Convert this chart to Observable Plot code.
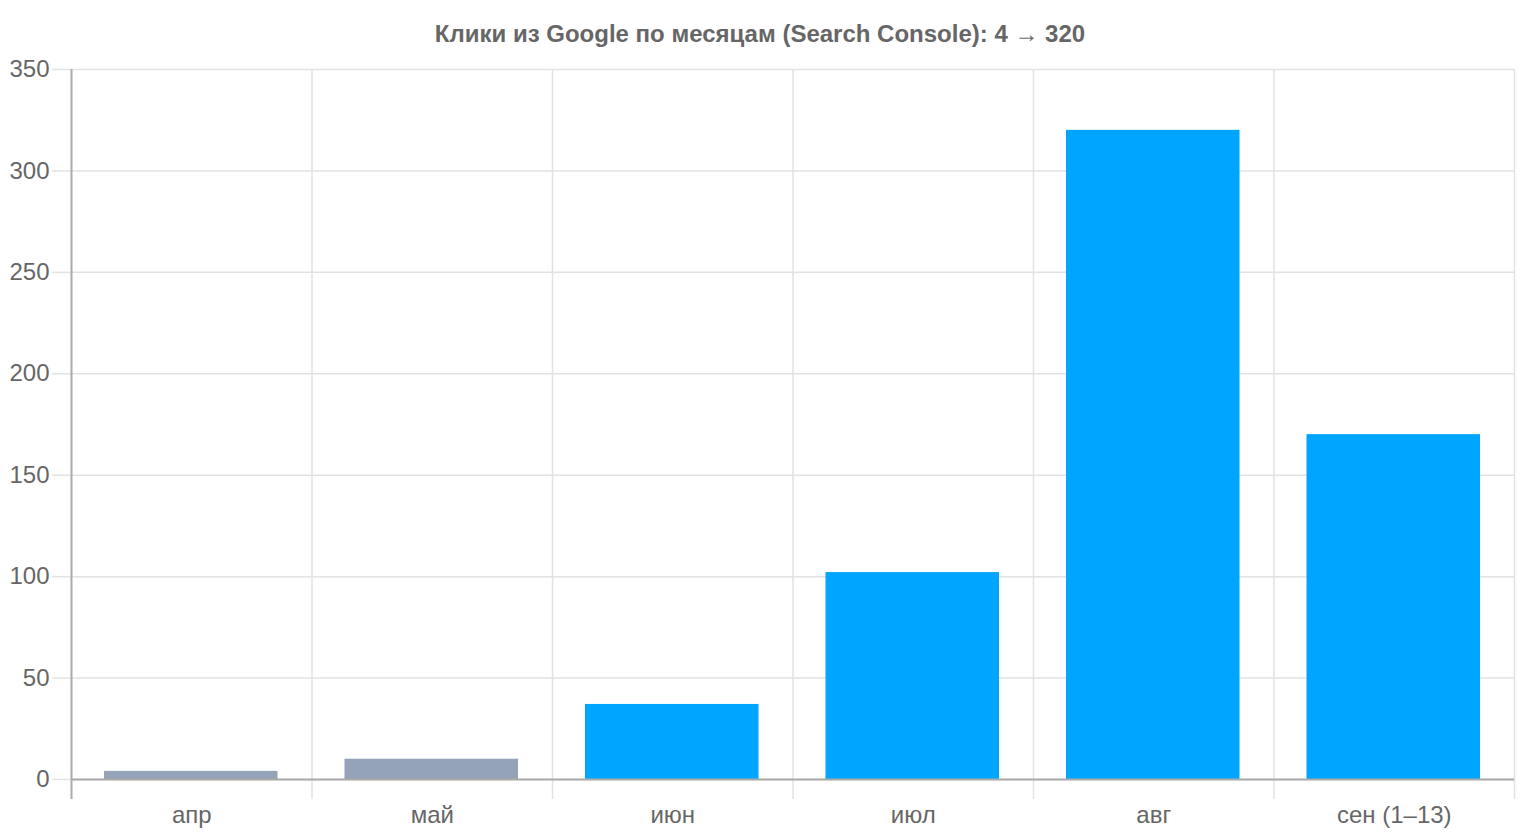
<!DOCTYPE html>
<html>
<head>
<meta charset="utf-8">
<script src="https://cdn.jsdelivr.net/npm/d3@7"></script>
<script src="https://cdn.jsdelivr.net/npm/@observablehq/plot@0.6"></script>
<style>
  html, body { margin: 0; padding: 0; background: #fff; }
  #title { box-sizing: border-box; height: 48px; padding-top: 22px; line-height: 24px; text-align: center; font-family: "Liberation Sans", Arial, sans-serif; font-weight: bold; font-size: 24px; color: #666; }
  #chart svg { display: block; }
</style>
</head>
<body>
<div id="title">Клики из Google по месяцам (Search Console): 4 → 320</div>
<div id="chart"></div>
<script>
const months = ["апр", "май", "июн", "июл", "авг", "сен (1–13)"];
const clicks = [4, 10, 37, 102, 320, 170];
const yTicks = [0, 50, 100, 150, 200, 250, 300, 350];

const data = months.map((m, i) => ({month: m, i, clicks: clicks[i]}));
const bounds = d3.range(months.length + 1);
const centers = months.map((_, i) => i + 0.5);

const chart = Plot.plot({
  width: 1520,
  height: 792,
  marginTop: 21,
  marginBottom: 61,
  marginLeft: 71,
  marginRight: 6,
  style: {fontFamily: "'Liberation Sans', Arial, sans-serif", fontSize: "24px", background: "#fff"},
  x: {type: "linear", domain: [0, months.length]},
  y: {domain: [0, 350]},
  marks: [
    Plot.gridY(yTicks, {stroke: "#e2e2e2", strokeOpacity: 1, strokeWidth: 1.5}),
    Plot.ruleX(bounds.slice(1), {stroke: "#e2e2e2", strokeOpacity: 1, strokeWidth: 1.5}),
    Plot.axisY({ticks: yTicks, tickSize: 19, tickPadding: 3, stroke: "#e2e2e2", strokeWidth: 1.5, fill: "#666", fontSize: 24, label: null}),
    Plot.axisX({ticks: bounds.slice(1), tickSize: 20, stroke: "#e2e2e2", strokeWidth: 1.5, tickFormat: () => "", label: null}),
    Plot.axisX({ticks: [0], tickSize: 20, stroke: "#aaa", strokeWidth: 2, tickFormat: () => "", label: null}),
    Plot.axisX({ticks: centers, tickSize: 0, tickPadding: 26, fill: "#666", fontSize: 24, tickFormat: d => months[Math.round(d - 0.5)], label: null}),
    Plot.rectY(data, {x1: "i", x2: d => d.i + 1, y: "clicks", insetLeft: 33, insetRight: 34, fill: d => d.i < 2 ? "#94a3b8" : "#00a5ff"}),
    Plot.ruleX([0], {stroke: "#aaa", strokeWidth: 2}),
    Plot.ruleY([0], {stroke: "#aaa", strokeWidth: 2})
  ]
});
document.getElementById("chart").append(chart);
</script>
</body>
</html>
